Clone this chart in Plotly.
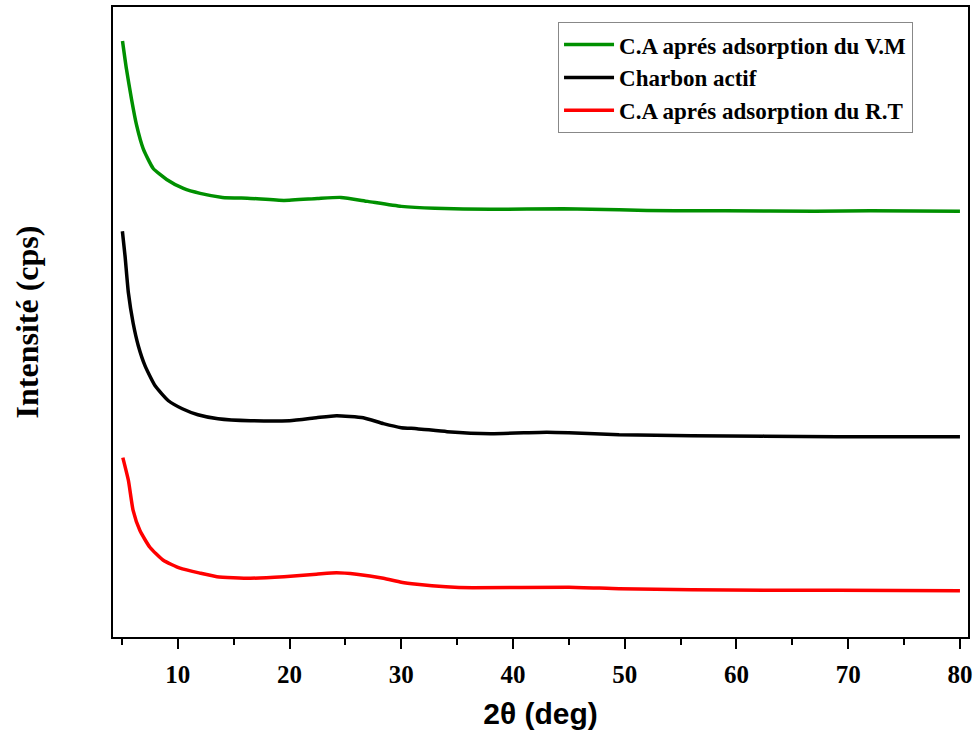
import plotly.graph_objects as go

# 2-theta (deg) and intensity (arbitrary units)
x_vm = [5.05, 5.4, 5.85, 6.3, 6.9, 7.8, 9.0, 10.5, 12.0, 14.0, 16.5, 19.5, 22.5, 24.6, 27.0,
        30.0, 33.0, 38.0, 44.5, 49.5, 54.5, 59.0, 67.0, 72.0, 80.0]
y_vm = [598, 570, 540, 514, 490, 470, 459, 450, 445, 441, 440, 438, 440, 441, 437,
        432, 430, 429, 429.5, 428.5, 427.5, 427.5, 427, 427.5, 427]

x_ca = [5.04, 5.28, 5.58, 6.0, 6.47, 7.07, 7.97, 9.16, 10.4, 11.8, 13.6, 16.5, 20.0, 22.4,
        24.2, 26.6, 28.4, 30.0, 31.4, 34.1, 38.0, 43.0, 45.0, 49.5, 56.0, 62.5, 69.0, 80.0]
y_ca = [407, 382, 345, 315, 292, 272, 252, 237, 229, 223, 219, 217, 217, 220,
        222, 220, 214, 210, 209, 206, 204, 205.5, 205, 203, 202, 201.5, 201, 201]

x_rt = [5.08, 5.58, 6.0, 6.6, 7.5, 8.7, 10.2, 12.0, 13.5, 16.5, 19.5, 22.4, 24.2, 26.0,
        28.4, 30.0, 31.4, 34.0, 36.4, 45.0, 49.5, 56.0, 62.5, 69.0, 80.0]
y_rt = [180, 157, 127, 107, 90, 77, 69, 64, 60.5, 59, 60.5, 63, 64.5, 63,
        59, 55, 53, 50.5, 49.5, 50, 48.5, 47.5, 47, 47, 46.5]

names = ["C.A aprés adsorption du V.M", "Charbon actif", "C.A aprés adsorption du R.T"]
colors = ["#009000", "#000000", "#ff0000"]

fig = go.Figure()
for xs, ys, n, c in zip([x_vm, x_ca, x_rt], [y_vm, y_ca, y_rt], names, colors):
    fig.add_trace(go.Scatter(x=xs, y=ys, mode="lines", name=n,
                             line=dict(color=c, width=3.5, shape="spline", smoothing=0.5)))

serif = "Liberation Serif"
fig.update_layout(
    width=977, height=740,
    margin=dict(l=113, r=9, t=5, b=103),
    paper_bgcolor="white", plot_bgcolor="white",
    showlegend=True,
    legend=dict(x=0.5205, y=0.976, xanchor="left", yanchor="top",
                bgcolor="white", bordercolor="#888888", borderwidth=1,
                font=dict(family=serif, size=23, color="black", weight="bold"),
                itemwidth=50, tracegroupgap=0),
    xaxis=dict(range=[4.2, 80.72], showline=True, linecolor="black", linewidth=2, mirror=True,
               showgrid=False, zeroline=False,
               tick0=0, dtick=10, ticks="outside", ticklen=10, tickwidth=2, tickcolor="black",
               ticklabelstandoff=4,
               minor=dict(ticks="outside", ticklen=6, tickwidth=2, dtick=5, tick0=0, tickcolor="black"),
               tickfont=dict(family=serif, size=25, color="black", weight="bold"),
               title=dict(text="2θ (deg)", standoff=16,
                          font=dict(family="Liberation Sans", size=30, color="black", weight="bold"))),
    yaxis=dict(range=[0, 632], showline=True, linecolor="black", linewidth=2, mirror=True,
               showgrid=False, zeroline=False, showticklabels=False, ticks="",
               title=dict(text="Intensité (cps)", standoff=63,
                          font=dict(family=serif, size=32, color="black", weight="bold"))),
)

fig.write_html("out.html")
